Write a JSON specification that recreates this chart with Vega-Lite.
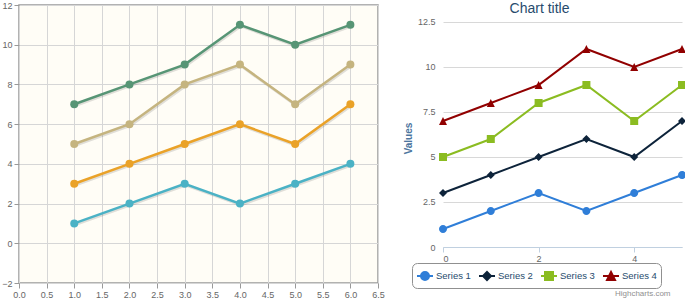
{
  "$schema": "https://vega.github.io/schema/vega-lite/v6.json",
  "padding": 0,
  "background": "white",
  "bounds": "flush",
  "spacing": 65,
  "config": {"view": {"stroke": null}, "font": "Liberation Sans", "axis": {"labelFont": "Liberation Sans", "titleFont": "Liberation Sans"}},
  "datasets": {
    "left": [
      {"series": "A", "x": 1, "y": 1}, {"series": "A", "x": 2, "y": 2}, {"series": "A", "x": 3, "y": 3}, {"series": "A", "x": 4, "y": 2}, {"series": "A", "x": 5, "y": 3}, {"series": "A", "x": 6, "y": 4},
      {"series": "B", "x": 1, "y": 3}, {"series": "B", "x": 2, "y": 4}, {"series": "B", "x": 3, "y": 5}, {"series": "B", "x": 4, "y": 6}, {"series": "B", "x": 5, "y": 5}, {"series": "B", "x": 6, "y": 7},
      {"series": "C", "x": 1, "y": 5}, {"series": "C", "x": 2, "y": 6}, {"series": "C", "x": 3, "y": 8}, {"series": "C", "x": 4, "y": 9}, {"series": "C", "x": 5, "y": 7}, {"series": "C", "x": 6, "y": 9},
      {"series": "D", "x": 1, "y": 7}, {"series": "D", "x": 2, "y": 8}, {"series": "D", "x": 3, "y": 9}, {"series": "D", "x": 4, "y": 11}, {"series": "D", "x": 5, "y": 10}, {"series": "D", "x": 6, "y": 11}
    ],
    "right": [
      {"series": "Series 1", "x": 0, "y": 1}, {"series": "Series 1", "x": 1, "y": 2}, {"series": "Series 1", "x": 2, "y": 3}, {"series": "Series 1", "x": 3, "y": 2}, {"series": "Series 1", "x": 4, "y": 3}, {"series": "Series 1", "x": 5, "y": 4},
      {"series": "Series 2", "x": 0, "y": 3}, {"series": "Series 2", "x": 1, "y": 4}, {"series": "Series 2", "x": 2, "y": 5}, {"series": "Series 2", "x": 3, "y": 6}, {"series": "Series 2", "x": 4, "y": 5}, {"series": "Series 2", "x": 5, "y": 7},
      {"series": "Series 3", "x": 0, "y": 5}, {"series": "Series 3", "x": 1, "y": 6}, {"series": "Series 3", "x": 2, "y": 8}, {"series": "Series 3", "x": 3, "y": 9}, {"series": "Series 3", "x": 4, "y": 7}, {"series": "Series 3", "x": 5, "y": 9},
      {"series": "Series 4", "x": 0, "y": 7}, {"series": "Series 4", "x": 1, "y": 8}, {"series": "Series 4", "x": 2, "y": 9}, {"series": "Series 4", "x": 3, "y": 11}, {"series": "Series 4", "x": 4, "y": 10}, {"series": "Series 4", "x": 5, "y": 11}
    ]
  },
  "hconcat": [
    {
      "width": 359,
      "height": 278,
      "data": {"name": "left"},
      "view": {"fill": "#fffdf6", "stroke": "#999999", "strokeWidth": 1.5},
      "encoding": {
        "x": {"field": "x", "type": "quantitative",
          "scale": {"domain": [0, 6.5], "nice": false, "zero": false},
          "axis": {"values": [0, 0.5, 1, 1.5, 2, 2.5, 3, 3.5, 4, 4.5, 5, 5.5, 6, 6.5], "format": ".1f", "title": null, "grid": true, "gridColor": "#d6d6d6", "domain": false, "tickColor": "#999999", "tickSize": 5, "labelColor": "#666666", "labelFontSize": 9, "labelPadding": 2, "labelFlush": false}},
        "y": {"field": "y", "type": "quantitative",
          "scale": {"domain": [-2, 12], "nice": false, "zero": false},
          "axis": {"values": [-2, 0, 2, 4, 6, 8, 10, 12], "title": null, "grid": true, "gridColor": "#d6d6d6", "domain": false, "tickColor": "#999999", "tickSize": 5, "labelColor": "#666666", "labelFontSize": 9, "labelPadding": 2, "labelFlush": false}}
      },
      "layer": [
        {"mark": {"type": "line", "strokeWidth": 2.5, "xOffset": 1, "yOffset": 1.5, "opacity": 0.12},
         "encoding": {"detail": {"field": "series"}, "color": {"value": "#000000"}}},
        {"mark": {"type": "line", "strokeWidth": 2.5},
         "encoding": {"color": {"field": "series", "type": "nominal", "scale": {"domain": ["A", "B", "C", "D"], "range": ["#4bb2c5", "#eaa228", "#c5b47f", "#579575"]}, "legend": null}}},
        {"mark": {"type": "circle", "size": 64, "opacity": 1},
         "encoding": {"color": {"field": "series", "type": "nominal", "scale": {"domain": ["A", "B", "C", "D"], "range": ["#4bb2c5", "#eaa228", "#c5b47f", "#579575"]}, "legend": null}}}
      ]
    },
    {
      "width": 239,
      "height": 242,
      "data": {"name": "right"},
      "title": {"text": "Chart title", "fontSize": 14, "color": "#274b6d", "fontWeight": "normal", "anchor": "middle", "offset": -2, "baseline": "middle", "dx": -23, "dy": 16, "font": "Liberation Sans"},
      "encoding": {
        "x": {"field": "x", "type": "quantitative",
          "scale": {"domain": [0, 5], "nice": false, "zero": false},
          "axis": {"values": [0, 2, 4], "grid": false, "domainColor": "#C0D0E0", "tickColor": "#C0D0E0", "tickSize": 5, "labelColor": "#666666", "labelFontSize": 9, "labelPadding": 2,
            "title": "Highcharts.com", "titleFontSize": 8, "titleColor": "#909090", "titleFontWeight": "normal", "titleX": 227, "titleY": 46, "titleAlign": "right", "titleBaseline": "middle"}},
        "y": {"field": "y", "type": "quantitative",
          "scale": {"domain": [0, 13.444], "nice": false, "zero": false},
          "axis": {"values": [0, 2.5, 5, 7.5, 10, 12.5], "labelExpr": "datum.value", "domain": false, "ticks": false, "grid": true, "gridColor": "#d8d8d8", "labelColor": "#666666", "labelFontSize": 9, "labelPadding": 8,
            "title": "Values", "titleColor": "#4d759e", "titleFontSize": 10, "titleFontWeight": "bold", "titleY": 133}}
      },
      "layer": [
        {"mark": {"type": "line", "strokeWidth": 2},
         "encoding": {"stroke": {"field": "series", "type": "nominal", "scale": {"domain": ["Series 1", "Series 2", "Series 3", "Series 4"], "range": ["#2f7ed8", "#0d233a", "#8bbc21", "#910000"]},
           "legend": {"title": null, "orient": "none", "legendX": 393, "legendY": 258, "direction": "horizontal", "columns": 4, "strokeColor": "#909090", "cornerRadius": 5, "padding": 4, "fillColor": "white",
               "symbolSize": 256, "symbolStrokeWidth": 2, "labelFontSize": 9.5, "labelColor": "#274b6d", "labelFont": "Liberation Sans", "labelOffset": 2, "columnPadding": 4}}}},
        {"mark": {"type": "point", "filled": true, "size": 256, "opacity": 1, "strokeWidth": 0},
         "encoding": {
           "fill": {"field": "series", "type": "nominal", "scale": {"domain": ["Series 1", "Series 2", "Series 3", "Series 4"], "range": ["#2f7ed8", "#0d233a", "#8bbc21", "#910000"]},
             "legend": {"title": null, "orient": "none", "legendX": 393, "legendY": 258, "direction": "horizontal", "columns": 4, "strokeColor": "#909090", "cornerRadius": 5, "padding": 4, "fillColor": "white",
               "symbolSize": 256, "symbolStrokeWidth": 2, "labelFontSize": 9.5, "labelColor": "#274b6d", "labelFont": "Liberation Sans", "labelOffset": 2, "columnPadding": 4}},
           "shape": {"field": "series", "type": "nominal", "scale": {"domain": ["Series 1", "Series 2", "Series 3", "Series 4"], "range": [
             "M-1,0H1M0.5,0A0.5,0.5,0,1,1,-0.5,0A0.5,0.5,0,1,1,0.5,0Z",
             "M-1,0H1M0,-0.5L0.5,0L0,0.5L-0.5,0Z",
             "M-1,0H1M-0.5,-0.5H0.5V0.5H-0.5Z",
             "M-1,0H1M0,-0.5L0.5,0.5H-0.5Z"]},
             "legend": {"title": null, "orient": "none", "legendX": 393, "legendY": 258, "direction": "horizontal", "columns": 4, "strokeColor": "#909090", "cornerRadius": 5, "padding": 4, "fillColor": "white",
               "symbolSize": 256, "symbolStrokeWidth": 2, "labelFontSize": 9.5, "labelColor": "#274b6d", "labelFont": "Liberation Sans", "labelOffset": 2, "columnPadding": 4}}
         }}
      ]
    }
  ]
}
